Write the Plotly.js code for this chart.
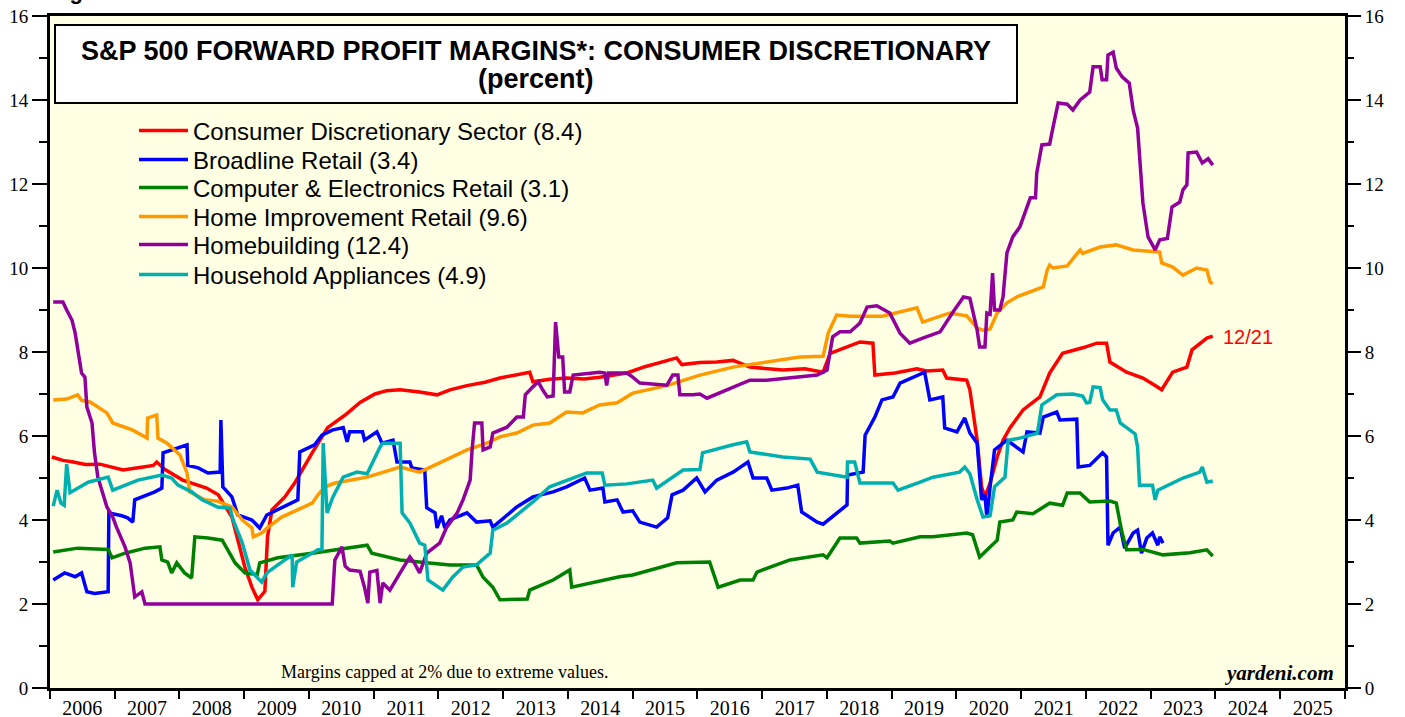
<!DOCTYPE html>
<html>
<head>
<meta charset="utf-8">
<script src="https://cdn.plot.ly/plotly-3.0.1.min.js"></script>
<style>
  html, body { margin: 0; padding: 0; background: #ffffff; }
  #chart { width: 1405px; height: 717px; }
</style>
</head>
<body>
<div id="chart"></div>
<script>
// ---- Data: [decimal year, forward profit margin %] ----
const consumerDiscretionary = [
  [2006.03,5.50],[2006.20,5.42],[2006.36,5.38],[2006.55,5.32],[2006.77,5.33],[2006.95,5.25],[2007.13,5.19],[2007.39,5.25],
  [2007.60,5.30],[2007.65,5.38],[2007.78,5.20],[2008.05,4.95],[2008.25,4.85],[2008.42,4.76],[2008.60,4.60],[2008.67,4.43],
  [2008.81,4.07],[2009.01,2.88],[2009.12,2.40],[2009.21,2.10],[2009.32,2.30],[2009.36,3.60],[2009.43,4.24],[2009.63,4.55],
  [2009.78,4.88],[2010.05,5.60],[2010.29,6.20],[2010.56,6.50],[2010.79,6.80],[2011.02,7.00],[2011.20,7.08],[2011.41,7.10],
  [2011.71,7.05],[2011.98,6.98],[2012.18,7.10],[2012.44,7.20],[2012.72,7.28],[2012.95,7.38],[2013.18,7.45],[2013.41,7.52],
  [2013.46,7.29],[2013.72,7.35],[2013.98,7.38],[2014.25,7.36],[2014.49,7.40],[2014.91,7.50],[2015.19,7.65],[2015.53,7.80],
  [2015.68,7.86],[2015.76,7.70],[2016.04,7.75],[2016.30,7.76],[2016.55,7.80],[2016.81,7.64],[2017.04,7.60],[2017.32,7.57],
  [2017.66,7.60],[2017.94,7.52],[2018.05,7.97],[2018.31,8.12],[2018.51,8.24],[2018.71,8.21],[2018.74,7.45],[2019.05,7.50],
  [2019.39,7.60],[2019.54,7.55],[2019.79,7.57],[2019.85,7.38],[2020.16,7.33],[2020.21,7.10],[2020.32,5.90],[2020.39,4.79],
  [2020.44,4.55],[2020.52,4.88],[2020.63,5.50],[2020.72,5.90],[2020.83,6.20],[2021.03,6.62],[2021.29,6.93],[2021.44,7.50],
  [2021.64,7.97],[2021.95,8.10],[2022.17,8.21],[2022.32,8.21],[2022.37,7.76],[2022.63,7.52],[2022.88,7.38],[2023.07,7.20],
  [2023.17,7.10],[2023.34,7.52],[2023.56,7.64],[2023.64,8.05],[2023.87,8.33],[2023.96,8.38]
];
const broadlineRetail = [
  [2006.05,2.57],[2006.23,2.74],[2006.39,2.65],[2006.49,2.74],[2006.57,2.29],[2006.69,2.25],[2006.90,2.29],[2006.91,4.17],
  [2007.11,4.10],[2007.20,4.05],[2007.28,3.95],[2007.31,4.48],[2007.62,4.67],[2007.73,4.76],[2007.75,5.60],[2007.98,5.71],
  [2008.12,5.79],[2008.13,5.30],[2008.29,5.24],[2008.44,5.12],[2008.63,5.14],[2008.64,6.38],[2008.67,4.79],[2008.81,4.55],
  [2008.90,4.12],[2009.12,4.00],[2009.24,3.81],[2009.35,4.12],[2009.52,4.24],[2009.83,4.48],[2009.86,5.62],[2010.09,5.79],
  [2010.20,6.02],[2010.36,6.14],[2010.53,6.20],[2010.59,5.86],[2010.63,6.10],[2010.83,6.10],[2010.86,5.90],[2011.05,6.10],
  [2011.13,5.83],[2011.30,5.90],[2011.36,5.38],[2011.56,5.38],[2011.59,5.24],[2011.79,5.19],[2011.82,4.29],[2011.95,4.17],
  [2011.98,3.81],[2012.05,4.10],[2012.10,3.81],[2012.18,4.00],[2012.44,4.17],[2012.59,3.95],[2012.80,3.98],[2012.84,3.83],
  [2013.21,4.31],[2013.46,4.55],[2013.77,4.67],[2013.98,4.79],[2014.26,5.00],[2014.34,4.71],[2014.54,4.76],[2014.57,4.43],
  [2014.76,4.48],[2014.85,4.19],[2015.00,4.22],[2015.11,3.95],[2015.37,3.83],[2015.54,4.05],[2015.61,4.60],[2015.78,4.71],
  [2015.99,5.00],[2016.12,4.67],[2016.30,4.95],[2016.55,5.14],[2016.78,5.38],[2016.86,5.00],[2017.07,5.00],[2017.15,4.71],
  [2017.38,4.76],[2017.55,4.83],[2017.61,4.19],[2017.85,3.95],[2017.94,3.90],[2018.15,4.17],[2018.31,4.36],[2018.32,5.07],
  [2018.56,5.14],[2018.59,6.02],[2018.74,6.45],[2018.85,6.86],[2019.02,6.93],[2019.13,7.26],[2019.39,7.45],[2019.51,7.52],
  [2019.59,6.86],[2019.79,6.93],[2019.82,6.19],[2020.01,6.10],[2020.13,6.43],[2020.21,6.07],[2020.32,5.83],[2020.39,4.48],
  [2020.44,4.60],[2020.47,4.05],[2020.52,4.79],[2020.59,5.67],[2020.78,5.90],[2021.03,5.62],[2021.09,6.10],[2021.29,6.07],
  [2021.34,6.45],[2021.55,6.57],[2021.60,6.38],[2021.86,6.40],[2021.88,5.26],[2022.06,5.30],[2022.26,5.60],[2022.32,5.50],
  [2022.34,3.40],[2022.42,3.69],[2022.53,3.83],[2022.60,3.33],[2022.73,3.69],[2022.80,3.76],[2022.86,3.21],[2022.94,3.57],
  [2023.03,3.69],[2023.11,3.40],[2023.14,3.60],[2023.19,3.45]
];
const computerElectronicsRetail = [
  [2006.05,3.24],[2006.43,3.33],[2006.90,3.30],[2006.96,3.10],[2007.16,3.21],[2007.47,3.33],[2007.70,3.36],[2007.73,3.05],
  [2007.82,3.00],[2007.88,2.74],[2007.96,2.98],[2008.08,2.74],[2008.19,2.62],[2008.24,3.60],[2008.44,3.57],[2008.66,3.52],
  [2008.73,3.33],[2008.86,2.98],[2009.01,2.74],[2009.20,2.70],[2009.24,2.98],[2009.52,3.10],[2010.05,3.21],[2010.45,3.29],
  [2010.90,3.40],[2010.97,3.21],[2011.41,3.05],[2011.82,2.98],[2012.18,2.93],[2012.59,2.93],[2012.69,2.64],[2012.84,2.40],
  [2012.95,2.10],[2013.37,2.12],[2013.41,2.33],[2013.77,2.57],[2014.03,2.81],[2014.06,2.40],[2014.39,2.52],[2014.80,2.65],
  [2015.00,2.69],[2015.68,2.98],[2016.19,3.00],[2016.32,2.40],[2016.66,2.57],[2016.86,2.57],[2016.92,2.76],[2017.43,3.05],
  [2017.94,3.17],[2018.00,3.10],[2018.20,3.57],[2018.46,3.57],[2018.51,3.45],[2018.97,3.50],[2019.02,3.45],[2019.44,3.60],
  [2019.64,3.60],[2020.16,3.69],[2020.25,3.65],[2020.36,3.12],[2020.63,3.52],[2020.67,3.95],[2020.87,4.00],[2020.93,4.19],
  [2021.18,4.15],[2021.44,4.40],[2021.64,4.35],[2021.71,4.64],[2021.91,4.64],[2022.06,4.43],[2022.37,4.45],[2022.47,4.40],
  [2022.55,3.76],[2022.63,3.29],[2022.88,3.30],[2023.19,3.17],[2023.61,3.22],[2023.87,3.29],[2023.96,3.14]
];
const homeImprovementRetail = [
  [2006.05,6.86],[2006.26,6.88],[2006.43,6.98],[2006.49,6.85],[2006.62,6.81],[2006.88,6.55],[2006.97,6.31],[2007.28,6.14],
  [2007.50,5.95],[2007.51,6.43],[2007.65,6.50],[2007.67,5.95],[2007.81,5.83],[2008.01,5.55],[2008.12,5.12],[2008.16,4.67],
  [2008.39,4.48],[2008.59,4.45],[2008.81,4.31],[2008.97,4.00],[2009.12,3.81],[2009.14,3.60],[2009.27,3.69],[2009.37,3.83],
  [2009.58,4.07],[2009.83,4.24],[2010.05,4.40],[2010.14,4.60],[2010.25,4.79],[2010.40,4.88],[2010.90,5.02],[2011.41,5.26],
  [2011.71,5.14],[2012.02,5.36],[2012.44,5.67],[2012.75,5.83],[2012.95,5.98],[2013.21,6.07],[2013.46,6.26],[2013.72,6.31],
  [2013.98,6.57],[2014.23,6.55],[2014.49,6.74],[2014.76,6.79],[2015.00,7.02],[2015.53,7.20],[2016.04,7.45],[2016.55,7.64],
  [2017.07,7.76],[2017.58,7.88],[2017.94,7.90],[2018.02,8.45],[2018.15,8.88],[2018.36,8.85],[2018.86,8.85],[2019.13,8.95],
  [2019.39,9.05],[2019.48,8.71],[2019.90,8.93],[2020.16,8.86],[2020.32,8.57],[2020.41,8.52],[2020.52,8.55],[2020.63,8.93],
  [2020.78,9.17],[2020.93,9.31],[2021.34,9.55],[2021.40,9.95],[2021.44,10.07],[2021.49,10.00],[2021.71,10.05],[2021.91,10.43],
  [2021.95,10.35],[2022.22,10.50],[2022.47,10.55],[2022.73,10.43],[2022.99,10.40],[2023.14,10.38],[2023.17,10.12],[2023.34,10.02],
  [2023.50,9.83],[2023.71,10.00],[2023.87,9.95],[2023.92,9.67],[2023.96,9.62]
];
const homebuilding = [
  [2006.05,9.19],[2006.20,9.19],[2006.26,9.00],[2006.34,8.76],[2006.39,8.45],[2006.43,8.12],[2006.49,7.50],[2006.54,7.40],
  [2006.57,6.69],[2006.65,6.31],[2006.69,5.60],[2006.74,5.02],[2006.82,4.64],[2006.88,4.31],[2006.97,4.07],[2007.03,3.83],
  [2007.16,3.36],[2007.24,2.98],[2007.31,2.17],[2007.42,2.29],[2007.47,2.00],[2010.36,2.00],[2010.40,3.05],[2010.51,3.36],
  [2010.56,2.90],[2010.63,2.81],[2010.79,2.78],[2010.86,2.40],[2010.91,2.02],[2010.94,2.76],[2011.05,2.80],[2011.10,2.02],
  [2011.14,2.50],[2011.25,2.33],[2011.41,2.74],[2011.56,3.12],[2011.64,2.95],[2011.71,2.74],[2011.82,3.21],[2012.02,3.45],
  [2012.13,3.83],[2012.29,4.17],[2012.38,4.48],[2012.49,4.95],[2012.52,5.67],[2012.56,6.31],[2012.67,6.31],[2012.69,5.67],
  [2012.80,5.74],[2012.84,6.07],[2013.06,6.21],[2013.21,6.45],[2013.31,6.45],[2013.34,6.98],[2013.46,7.17],[2013.54,7.29],
  [2013.61,7.10],[2013.68,6.93],[2013.77,6.95],[2013.81,8.71],[2013.86,7.88],[2013.92,7.88],[2013.95,7.05],[2014.03,7.05],
  [2014.08,7.45],[2014.49,7.52],[2014.57,7.50],[2014.60,7.20],[2014.63,7.50],[2014.91,7.50],[2015.00,7.40],[2015.11,7.26],
  [2015.53,7.21],[2015.62,7.45],[2015.70,7.45],[2015.73,6.98],[2015.93,6.98],[2016.04,7.00],[2016.15,6.90],[2016.55,7.17],
  [2016.81,7.33],[2017.07,7.33],[2017.58,7.40],[2017.85,7.45],[2018.00,7.57],[2018.09,8.36],[2018.20,8.48],[2018.36,8.48],
  [2018.51,8.69],[2018.62,9.07],[2018.77,9.10],[2018.97,8.93],[2019.13,8.45],[2019.28,8.21],[2019.48,8.33],[2019.75,8.48],
  [2019.95,8.95],[2020.11,9.31],[2020.21,9.28],[2020.32,8.52],[2020.36,8.12],[2020.44,8.12],[2020.47,8.93],[2020.52,8.90],
  [2020.56,9.88],[2020.59,9.00],[2020.67,9.00],[2020.72,9.31],[2020.78,10.36],[2020.87,10.74],[2020.98,10.98],[2021.03,11.21],
  [2021.14,11.67],[2021.22,11.67],[2021.24,12.26],[2021.32,12.93],[2021.44,12.95],[2021.49,13.33],[2021.57,13.93],[2021.71,13.90],
  [2021.80,13.76],[2021.91,14.00],[2022.06,14.19],[2022.11,14.79],[2022.22,14.79],[2022.25,14.48],[2022.32,14.48],[2022.34,15.07],
  [2022.42,15.14],[2022.47,14.76],[2022.56,14.55],[2022.67,14.40],[2022.73,13.76],[2022.80,13.33],[2022.88,11.55],[2022.96,10.74],
  [2023.07,10.43],[2023.14,10.67],[2023.26,10.70],[2023.33,11.45],[2023.45,11.57],[2023.50,11.86],[2023.56,11.98],[2023.58,12.74],
  [2023.71,12.76],[2023.80,12.50],[2023.89,12.60],[2023.96,12.45]
];
const householdAppliances = [
  [2006.05,4.33],[2006.11,4.71],[2006.17,4.40],[2006.22,4.35],[2006.26,5.33],[2006.31,4.65],[2006.59,4.90],[2006.90,5.02],
  [2006.97,4.71],[2007.36,4.95],[2007.73,5.07],[2007.88,5.00],[2007.98,4.83],[2008.19,4.67],[2008.35,4.48],[2008.59,4.31],
  [2008.78,4.28],[2008.83,4.00],[2008.97,3.45],[2009.09,2.81],[2009.27,2.52],[2009.35,2.74],[2009.52,2.93],[2009.74,3.17],
  [2009.75,2.40],[2009.81,3.00],[2010.14,3.29],[2010.20,3.30],[2010.22,5.83],[2010.28,4.17],[2010.37,4.55],[2010.53,5.02],
  [2010.74,5.14],[2010.90,5.10],[2011.10,5.74],[2011.14,5.83],[2011.41,5.83],[2011.44,4.17],[2011.56,3.93],[2011.71,3.45],
  [2011.79,3.40],[2011.84,2.57],[2012.07,2.33],[2012.22,2.64],[2012.38,2.88],[2012.59,2.93],[2012.80,3.21],[2012.84,3.76],
  [2013.06,3.93],[2013.26,4.17],[2013.46,4.43],[2013.72,4.79],[2013.98,4.95],[2014.29,5.12],[2014.53,5.12],[2014.57,4.83],
  [2014.91,4.86],[2015.31,4.95],[2015.37,4.76],[2015.78,5.19],[2016.04,5.20],[2016.08,5.60],[2016.55,5.79],[2016.76,5.86],
  [2016.81,5.62],[2017.32,5.50],[2017.74,5.45],[2017.85,5.14],[2018.31,5.02],[2018.32,5.38],[2018.43,5.38],[2018.51,4.88],
  [2019.02,4.88],[2019.10,4.71],[2019.44,4.90],[2019.64,5.02],[2020.05,5.14],[2020.13,5.26],[2020.21,5.10],[2020.32,4.48],
  [2020.41,4.07],[2020.52,4.10],[2020.59,4.79],[2020.75,5.02],[2020.80,5.90],[2020.98,5.95],[2021.25,6.07],[2021.32,6.74],
  [2021.55,6.98],[2021.80,7.00],[2021.95,6.95],[2022.01,6.79],[2022.06,6.80],[2022.11,7.17],[2022.22,7.15],[2022.26,6.86],
  [2022.37,6.62],[2022.47,6.62],[2022.53,6.31],[2022.68,6.14],[2022.76,6.05],[2022.80,5.74],[2022.83,4.83],[2023.03,4.83],
  [2023.07,4.48],[2023.11,4.71],[2023.50,5.00],[2023.76,5.14],[2023.80,5.26],[2023.87,4.90],[2023.96,4.93]
];

const seriesNames = [
  'Consumer Discretionary Sector (8.4)',
  'Broadline Retail (3.4)',
  'Computer &amp; Electronics Retail (3.1)',
  'Home Improvement Retail (9.6)',
  'Homebuilding (12.4)',
  'Household Appliances (4.9)'
];
const seriesData = [consumerDiscretionary, broadlineRetail, computerElectronicsRetail,
                    homeImprovementRetail, homebuilding, householdAppliances];
const seriesColors = ['#FF0000', '#0000FF', '#008000', '#FF9900', '#92009B', '#00B0B0'];
// the last series is plotted against the right-hand (identical) axis so it is drawn
const seriesAxis = ['y', 'y', 'y', 'y', 'y', 'y2'];
const lastDateLabel = '12/21';
const yearTickStart = '2006-01-01';
const xRange = ['2006-01-01', '2026-01-01'];
const yRange = [0, 16];

// decimal year -> ISO date
function toDate(t) {
  const y = Math.floor(t);
  const s = Date.UTC(y, 0, 1), e = Date.UTC(y + 1, 0, 1);
  return new Date(s + (t - y) * (e - s)).toISOString().slice(0, 10);
}

const legendIds = ['legend', 'legend2', 'legend3', 'legend4', 'legend5', 'legend6'];
const traces = seriesData.map((d, i) => ({
  type: 'scatter',
  mode: 'lines',
  name: seriesNames[i],
  x: d.map(p => toDate(p[0])),
  y: d.map(p => p[1]),
  yaxis: seriesAxis[i],
  line: { color: seriesColors[i], width: 3.5 },
  legend: legendIds[i],
  hoverinfo: 'skip'
}));

// plot area in px: x 50..1345, y 16..688
const px2x = px => (px - 50) / 1295;
const px2y = py => (688 - py) / 672;

const serif = 'Liberation Serif, Times New Roman, serif';
const sans = 'Liberation Sans, Arial, sans-serif';

const yAxisCommon = {
  range: yRange, dtick: 2, tick0: 0,
  ticks: 'outside', ticklen: 15, tickwidth: 2, tickcolor: '#000',
  minor: { dtick: 1, ticks: 'outside', ticklen: 8, tickwidth: 2, tickcolor: '#000', showgrid: false },
  showgrid: false, zeroline: false,
  tickfont: { family: serif, size: 19, color: '#000' }
};

const legendRowsPx = [131, 160, 188, 217, 245, 275];
const layout = {
  width: 1405, height: 717,
  margin: { l: 50, r: 60, t: 16, b: 29, pad: 0 },
  paper_bgcolor: '#FFFFFF',
  plot_bgcolor: '#FFFFE3',
  hovermode: false,
  showlegend: true,
  xaxis: {
    type: 'date', range: xRange, dtick: 'M12', tick0: yearTickStart,
    ticklabelmode: 'period', tickformat: '%Y',
    ticks: 'outside', ticklen: 8, tickwidth: 2, tickcolor: '#000',
    ticklabelstandoff: -8,
    showline: true, linewidth: 3, linecolor: '#000', mirror: true,
    showgrid: false, zeroline: false,
    tickfont: { family: serif, size: 20, color: '#000' }
  },
  yaxis: Object.assign({}, yAxisCommon, {
    showline: true, linewidth: 3, linecolor: '#000', mirror: true
  }),
  yaxis2: Object.assign({}, yAxisCommon, {
    overlaying: 'y', side: 'right', anchor: 'x', showline: false
  }),
  shapes: [{
    type: 'rect', xref: 'paper', yref: 'paper',
    x0: px2x(55), x1: px2x(1017), y0: px2y(103), y1: px2y(25),
    line: { color: '#000', width: 2 }, fillcolor: '#FFFFFF', layer: 'above'
  }],
  annotations: [
    { xref: 'paper', yref: 'paper', x: px2x(536), y: px2y(51), xanchor: 'center', yanchor: 'middle',
      text: '<b>S&amp;P 500 FORWARD PROFIT MARGINS*: CONSUMER DISCRETIONARY</b>', showarrow: false,
      font: { family: sans, size: 27, color: '#000' } },
    { xref: 'paper', yref: 'paper', x: px2x(536), y: px2y(79), xanchor: 'center', yanchor: 'middle',
      text: '<b>(percent)</b>', showarrow: false,
      font: { family: sans, size: 27, color: '#000' } },
    { xref: 'paper', yref: 'paper', x: px2x(445), y: px2y(672), xanchor: 'center', yanchor: 'middle',
      text: 'Margins capped at 2% due to extreme values.', showarrow: false,
      font: { family: serif, size: 18, color: '#000' } },
    { xref: 'paper', yref: 'paper', x: px2x(1336), y: px2y(673), xanchor: 'right', yanchor: 'middle',
      text: '<b><i>yardeni.com</i></b>', showarrow: false,
      font: { family: serif, size: 21, color: '#000' } },
    { xref: 'paper', yref: 'paper', x: px2x(1221), y: px2y(337), xanchor: 'left', yanchor: 'middle',
      text: lastDateLabel, showarrow: false,
      font: { family: sans, size: 20, color: '#FF0000' } },
    { xref: 'paper', yref: 'paper', x: px2x(48), y: px2y(6), xanchor: 'left', yanchor: 'bottom',
      text: '<b>Figure 3</b>', showarrow: false,
      font: { family: sans, size: 22, color: '#000' } }
  ]
};
legendIds.forEach((id, i) => {
  layout[id] = {
    x: px2x(134), y: px2y(legendRowsPx[i]), xanchor: 'left', yanchor: 'middle',
    bgcolor: 'rgba(0,0,0,0)', borderwidth: 0, itemwidth: 49,
    font: { family: sans, size: 24, color: '#000' }
  };
});

Plotly.newPlot('chart', traces, layout, { displayModeBar: false, staticPlot: true });
</script>
</body>
</html>
